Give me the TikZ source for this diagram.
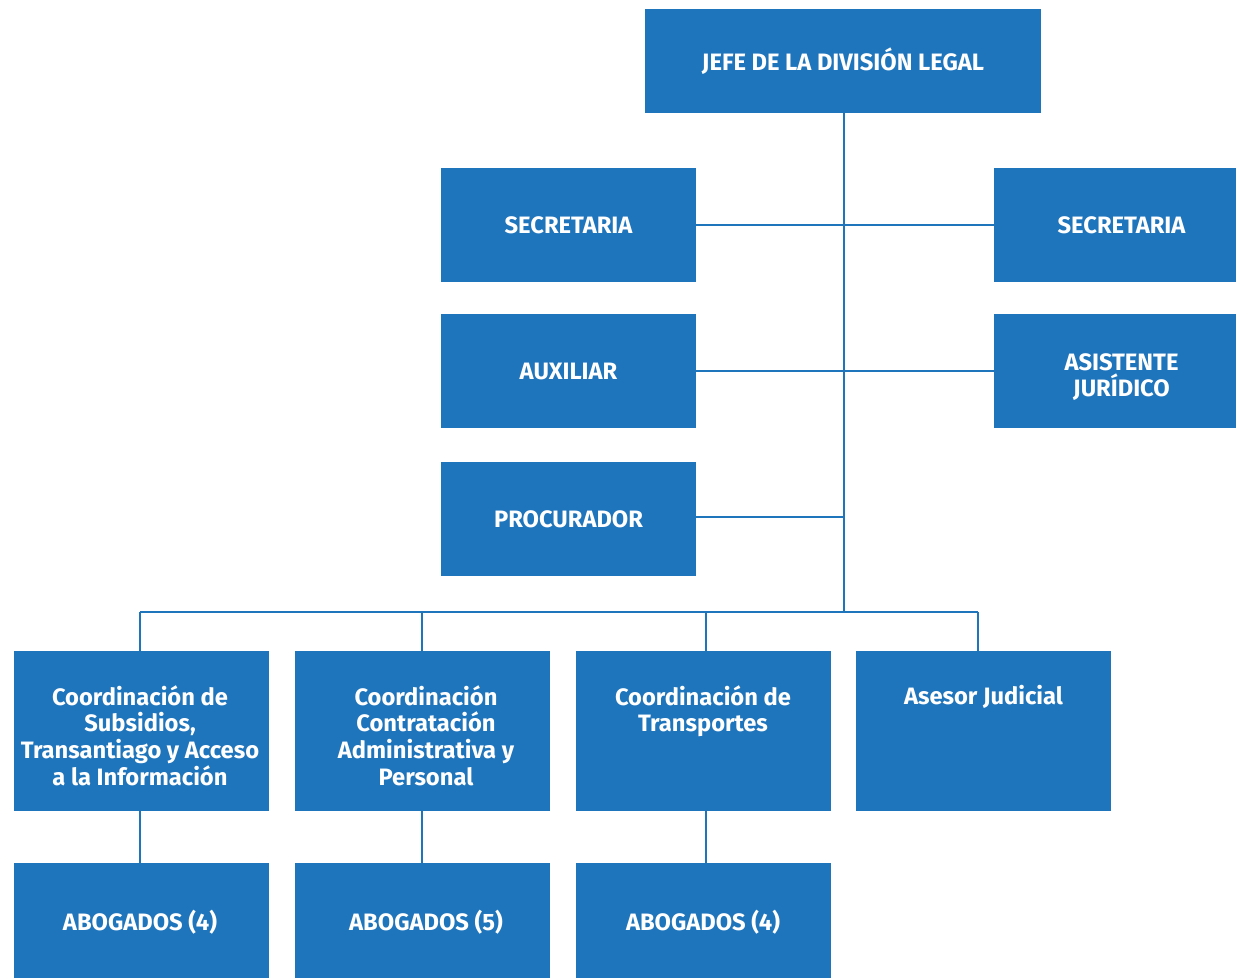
\documentclass[tikz,border=0pt]{standalone}
\usepackage{fontspec}
\setmainfont{Fira Sans}
\definecolor{orgblue}{RGB}{31,117,188}
\begin{document}
\begin{tikzpicture}[x=0.75pt,y=-0.75pt,
  box/.style={fill=orgblue,draw=none,inner sep=0pt,text=white,font=\bfseries\fontsize{17.8}{20}\selectfont,align=center},
  boxtext/.style={inner sep=0pt,text=white,font=\bfseries\fontsize{17.8}{20}\selectfont,align=center},
  toptext/.style={boxtext,anchor=north},
  link/.style={draw=orgblue,line width=1.5pt}]
\useasboundingbox (0,0) rectangle (1236,978);
% top
\node[box,minimum width=297pt,minimum height=78pt] (jefe) at (843,61) {JEFE DE LA DIVISIÓN LEGAL};
\node[box,minimum width=191.25pt,minimum height=85.5pt] (secL) at (568.5,225) {SECRETARIA};
\node[box,minimum width=191.25pt,minimum height=85.5pt] (secR) at (1121.5,225) {SECRETARIA};
\node[box,minimum width=191.25pt,minimum height=85.5pt] (aux) at (568.5,371) {AUXILIAR};
\node[box,minimum width=191.25pt,minimum height=85.5pt] (asis) at (1121.5,371) {};
\node[boxtext] (asistext) at (1121.5,377) {ASISTENTE\\JURÍDICO};
\node[box,minimum width=191.25pt,minimum height=85.5pt] (proc) at (568.5,519) {PROCURADOR};
% coordination boxes
\node[box,minimum width=191.25pt,minimum height=120pt] (c1) at (141.5,731) {};
\node[box,minimum width=191.25pt,minimum height=120pt] (c2) at (422.5,731) {};
\node[box,minimum width=191.25pt,minimum height=120pt] (c3) at (703.5,731) {};
\node[box,minimum width=191.25pt,minimum height=120pt] (c4) at (983.5,731) {};
\node[toptext] (t1) at (140,685) {Coordinación de\\Subsidios,\\Transantiago y Acceso\\a la Información};
\node[toptext] (t2) at (426,685) {Coordinación\\Contratación\\Administrativa y\\Personal};
\node[toptext] (t3) at (703,685) {Coordinación de\\Transportes};
\node[toptext] (t4) at (983.5,685) {Asesor Judicial};
% abogados
\node[box,minimum width=191.25pt,minimum height=86.25pt] (a1) at (141.5,920.5) {};
\node[box,minimum width=191.25pt,minimum height=86.25pt] (a2) at (422.5,920.5) {};
\node[box,minimum width=191.25pt,minimum height=86.25pt] (a3) at (703.5,920.5) {};
\node[boxtext] (at1) at (140,922) {ABOGADOS (4)};
\node[boxtext] (at2) at (426,922) {ABOGADOS (5)};
\node[boxtext] (at3) at (703,922) {ABOGADOS (4)};
% connectors
\coordinate (bus) at (844,612);
\coordinate (d1) at (140,612);
\coordinate (d2) at (422,612);
\coordinate (d3) at (706,612);
\coordinate (d4) at (978,612);
\draw[link] (jefe.south -| bus) -- (bus);
\draw[link] (secL.east) -- (secR.west);
\draw[link] (aux.east) -- (asis.west);
\draw[link] ([yshift=1.5pt]proc.east) -- ([yshift=1.5pt]proc.east -| bus);
\draw[link] (d1) -- (d4);
\draw[link] (d1) -- (d1 |- c1.north);
\draw[link] (d2) -- (d2 |- c2.north);
\draw[link] (d3) -- (d3 |- c3.north);
\draw[link] (d4) -- (d4 |- c4.north);
\draw[link] (c1.south -| d1) -- (a1.north -| d1);
\draw[link] (c2.south -| d2) -- (a2.north -| d2);
\draw[link] (c3.south -| d3) -- (a3.north -| d3);
\end{tikzpicture}
\end{document}
